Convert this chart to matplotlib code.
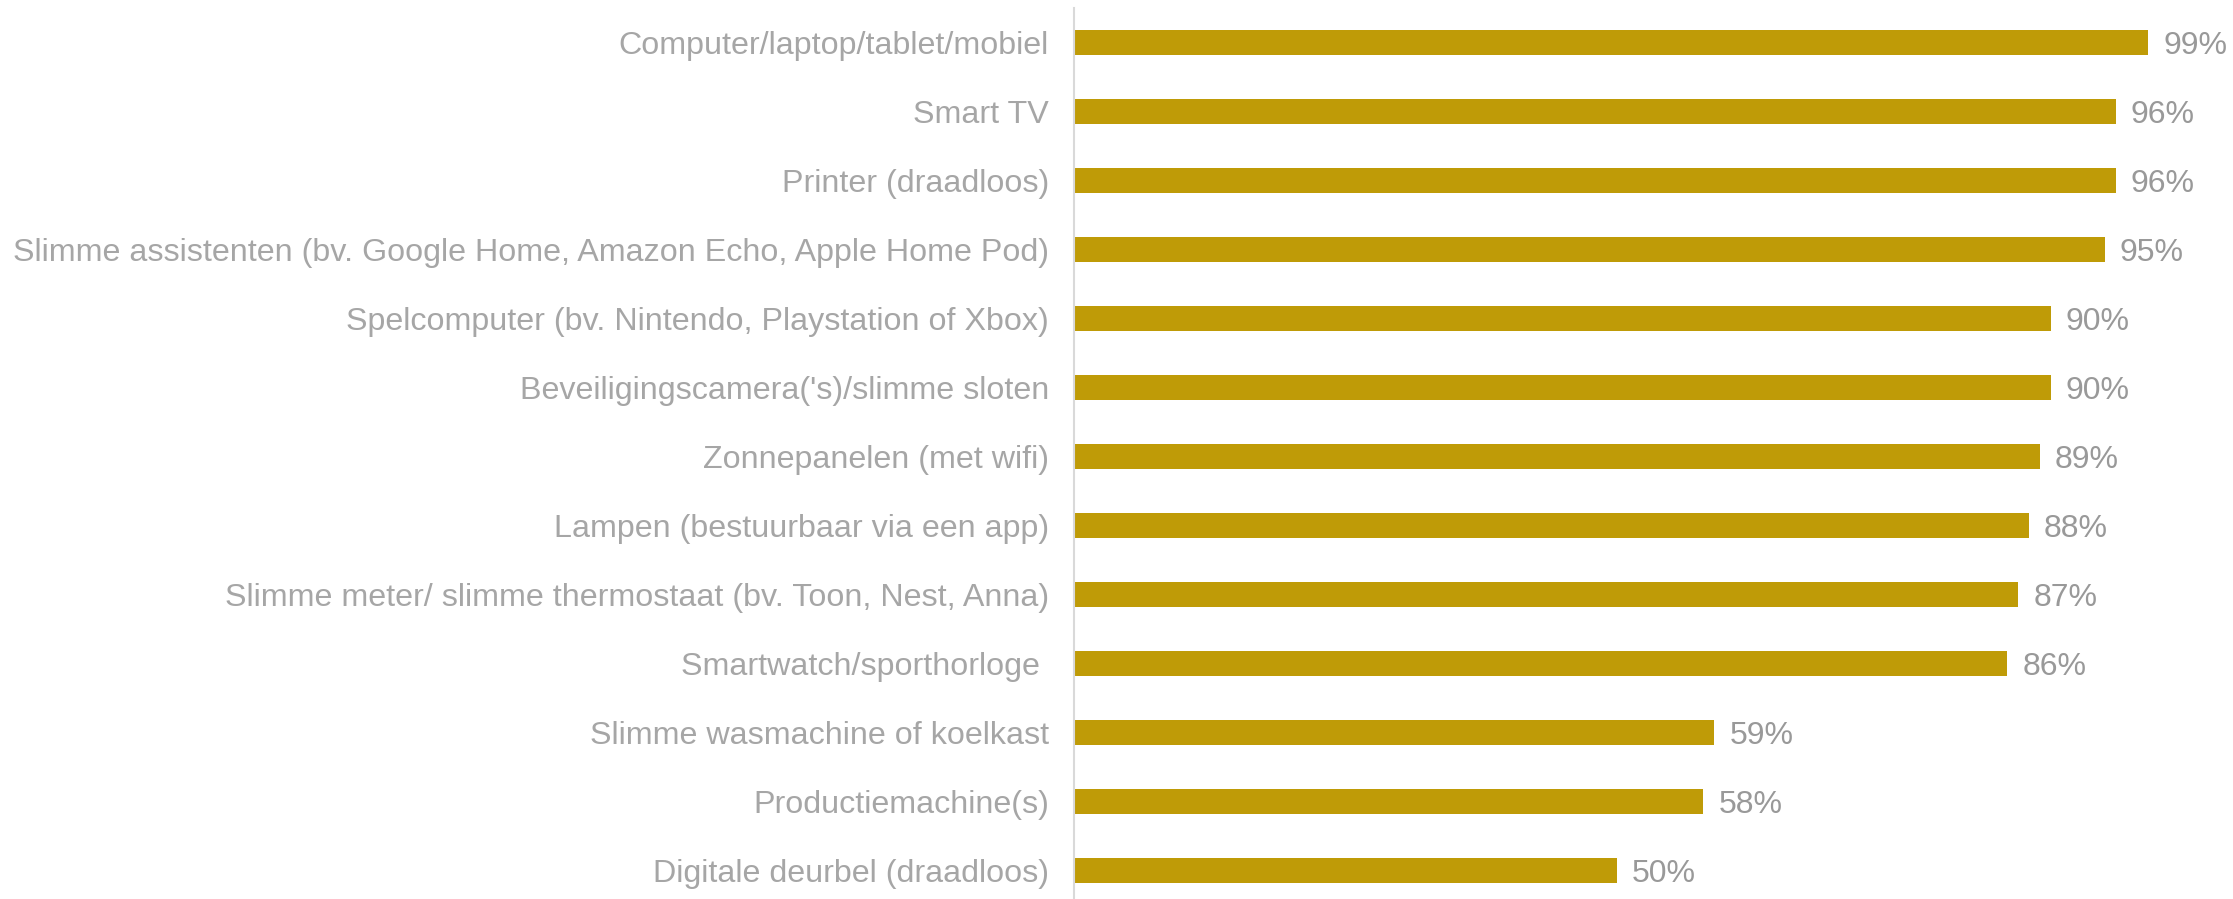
import matplotlib.pyplot as plt

# Categories, top to bottom
categories = [
    "Computer/laptop/tablet/mobiel",
    "Smart TV",
    "Printer (draadloos)",
    "Slimme assistenten (bv. Google Home, Amazon Echo, Apple Home Pod)",
    "Spelcomputer (bv. Nintendo, Playstation of Xbox)",
    "Beveiligingscamera('s)/slimme sloten",
    "Zonnepanelen (met wifi)",
    "Lampen (bestuurbaar via een app)",
    "Slimme meter/ slimme thermostaat (bv. Toon, Nest, Anna)",
    "Smartwatch/sporthorloge ",
    "Slimme wasmachine of koelkast",
    "Productiemachine(s)",
    "Digitale deurbel (draadloos)",
]
# Percentages
values = [99, 96, 96, 95, 90, 90, 89, 88, 87, 86, 59, 58, 50]

plt.rcParams['font.family'] = ['Liberation Sans', 'DejaVu Sans']

fig = plt.figure(figsize=(22.33, 8.99), dpi=100)
ax = fig.add_axes([1074 / 2233, 0, (2159 - 1074) / 2233, 1 - 8 / 899])

pos = list(range(len(categories)))
ax.barh(pos, values, height=0.36, color="#BF9B07")

for p, v in zip(pos, values):
    ax.text(v + 1.4, p + 0.05, str(v) + "%", va="center", ha="left",
            fontsize=23, color="#999999")

ax.set_xlim(0, 100)
ax.set_ylim(12.41, -0.5)
ax.set_yticks(pos)
ax.set_yticklabels(categories, fontsize=23.2, color="#A6A6A6")
ax.tick_params(axis="y", length=0, pad=18)
ax.set_xticks([])

for s in ["top", "right", "bottom"]:
    ax.spines[s].set_visible(False)
ax.spines["left"].set_color("#D9D9D9")
ax.spines["left"].set_linewidth(1.5)

fig.savefig("out.png", dpi=100)
